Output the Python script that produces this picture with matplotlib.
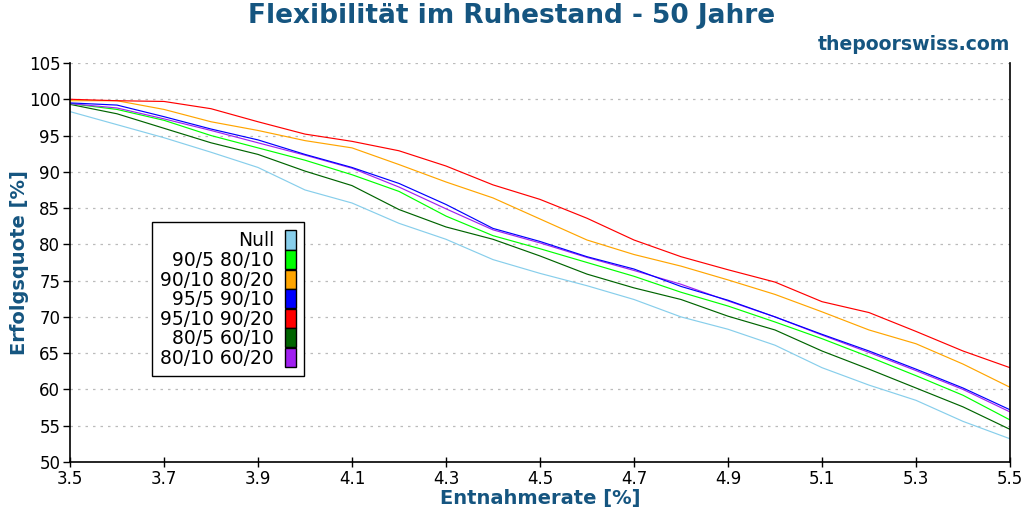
import matplotlib
matplotlib.use("Agg")
import matplotlib.pyplot as plt
from matplotlib.patches import Patch

rates = [3.5, 3.6, 3.7, 3.8, 3.9, 4.0, 4.1, 4.2, 4.3, 4.4, 4.5,
         4.6, 4.7, 4.8, 4.9, 5.0, 5.1, 5.2, 5.3, 5.4, 5.5]

null_vals = [98.3, 96.5, 94.7, 92.7, 90.6, 87.5, 85.7, 82.9, 80.7, 77.9, 76.0,
             74.3, 72.4, 70.0, 68.3, 66.1, 63.0, 60.6, 58.5, 55.6, 53.2]
s_90_5 = [99.4, 98.6, 97.1, 95.0, 93.3, 91.6, 89.6, 87.3, 83.9, 81.2, 79.4,
          77.5, 75.6, 73.4, 71.5, 69.3, 67.0, 64.5, 61.9, 59.2, 55.8]
s_90_10 = [99.8, 99.8, 98.6, 96.9, 95.7, 94.3, 93.3, 91.0, 88.6, 86.4, 83.5,
           80.6, 78.6, 77.0, 75.1, 73.1, 70.7, 68.2, 66.3, 63.5, 60.3]
s_95_5 = [99.5, 99.2, 97.6, 95.9, 94.4, 92.4, 90.6, 88.4, 85.5, 82.2, 80.4,
          78.3, 76.6, 74.2, 72.3, 70.0, 67.6, 65.3, 62.8, 60.2, 57.2]
s_95_10 = [100.0, 99.8, 99.7, 98.7, 96.9, 95.2, 94.2, 92.9, 90.8, 88.2, 86.2,
           83.6, 80.6, 78.3, 76.5, 74.8, 72.1, 70.6, 68.0, 65.3, 63.0]
s_80_5 = [99.3, 98.0, 96.0, 94.0, 92.4, 90.1, 88.1, 84.8, 82.4, 80.7, 78.4,
          75.9, 74.0, 72.4, 70.1, 68.2, 65.3, 62.8, 60.2, 57.6, 54.5]
s_80_10 = [99.4, 98.8, 97.3, 95.7, 94.0, 92.3, 90.5, 87.9, 84.9, 82.0, 80.2,
           78.2, 76.4, 74.5, 72.2, 70.0, 67.5, 65.1, 62.6, 60.0, 56.9]

labels = ["Null", "90/5 80/10", "90/10 80/20", "95/5 90/10",
          "95/10 90/20", "80/5 60/10", "80/10 60/20"]
series = [null_vals, s_90_5, s_90_10, s_95_5, s_95_10, s_80_5, s_80_10]
colors = ["#87ceeb", "#00ff00", "#ffa500", "#0000ff", "#ff0000", "#006400", "#a020f0"]

xticks = [3.5, 3.7, 3.9, 4.1, 4.3, 4.5, 4.7, 4.9, 5.1, 5.3, 5.5]
yticks = [50, 55, 60, 65, 70, 75, 80, 85, 90, 95, 100, 105]

title_color = "#155580"

plt.rcParams['font.family'] = ['DejaVu Sans']
fig = plt.figure(figsize=(10.24, 5.12), dpi=100)
ax = fig.add_axes([70/1024, 1-462/512, 940/1024, 399/512])

order = [0, 5, 1, 2, 4, 6, 3]
for i in order:
    ax.plot(rates, series[i], color=colors[i], linewidth=0.85)

ax.set_xlim(3.5, 5.5)
ax.set_ylim(50, 105)
ax.set_xticks(xticks)
ax.set_xticklabels([f"{v:.1f}" for v in xticks])
ax.set_yticks(yticks)
ax.set_yticklabels([str(v) for v in yticks])
ax.tick_params(axis='x', direction='inout', length=7, width=1, labelsize=12, pad=2)
ax.tick_params(axis='y', direction='out', length=5, width=1, labelsize=12, pad=2)
ax.grid(axis='y', color='#bbbbbb', linestyle=(0, (2, 4)), linewidth=0.9)
ax.spines['top'].set_visible(False)
for s in ['left', 'bottom', 'right']:
    ax.spines[s].set_linewidth(1.2)

ax.set_xlabel("Entnahmerate [%]", fontsize=14, fontweight='bold', color=title_color, labelpad=1)
ax.set_ylabel("Erfolgsquote [%]", fontsize=14, fontweight='bold', color=title_color, labelpad=0)

fig.text(0.5, 1-16/512, "Flexibilität im Ruhestand - 50 Jahre", ha='center', va='center',
         fontsize=19, fontweight='bold', color=title_color)
fig.text(1010/1024, 1-44/512, "thepoorswiss.com", ha='right', va='center',
         fontsize=13.6, fontweight='bold', color=title_color)

handles = [Patch(facecolor=c, edgecolor='black', linewidth=1) for c in colors]
leg = ax.legend(handles, labels, loc='upper left', bbox_to_anchor=(152/1024, 1-222/512),
                bbox_transform=fig.transFigure, markerfirst=False, fontsize=13.5,
                frameon=True, fancybox=False, edgecolor='black', framealpha=1,
                handlelength=0.6, handleheight=1.2, handletextpad=0.55,
                labelspacing=-0.02, borderpad=0.45, borderaxespad=0)
leg.get_frame().set_linewidth(1.0)
for t in leg.get_texts():
    t.set_ha('right')

fig.savefig("out.png", dpi=100)
